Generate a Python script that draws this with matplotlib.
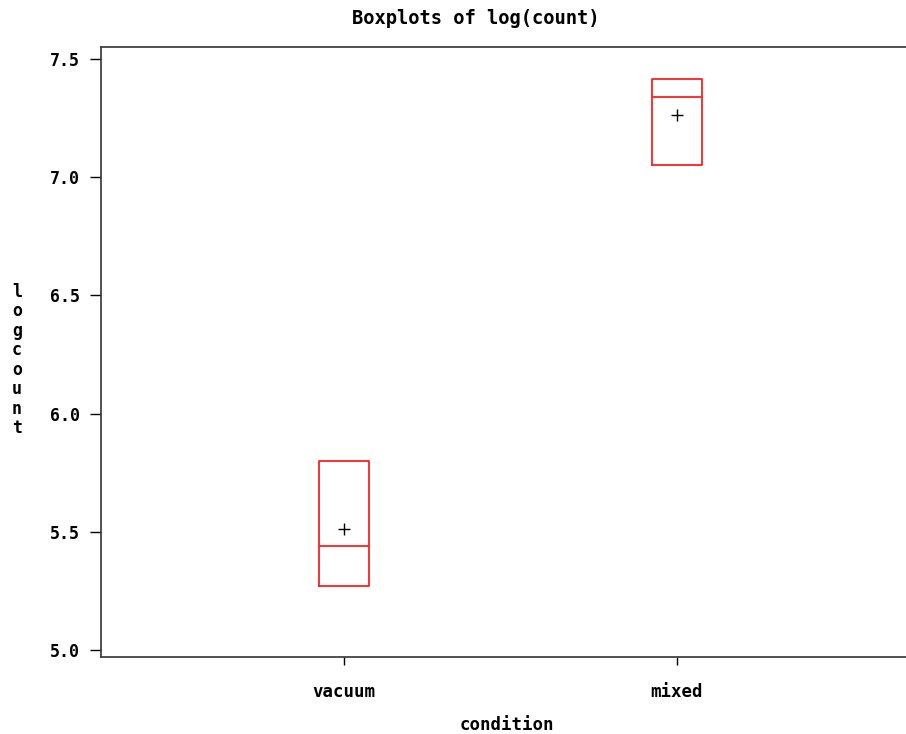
import matplotlib
matplotlib.use("Agg")
import matplotlib.pyplot as plt

# summary stats of log(count) per packaging condition
conditions = ["vacuum", "mixed"]
q1 = [5.27, 7.05]
median = [5.44, 7.34]
q3 = [5.80, 7.415]
mean = [5.51, 7.265]

yticks = [5.0, 5.5, 6.0, 6.5, 7.0, 7.5]

plt.rcParams['font.family'] = ['DejaVu Sans Mono']

fig = plt.figure(figsize=(9.06, 7.34), dpi=100)
# right side of the frame runs past the edge of the canvas
ax = fig.add_axes([101/906, 1-657/734, 815/906, 610/734])

stats = []
for i in range(len(conditions)):
    stats.append({'label': conditions[i], 'q1': q1[i], 'med': median[i], 'q3': q3[i],
                  'whislo': q1[i], 'whishi': q3[i], 'mean': mean[i], 'fliers': []})

ax.bxp(stats, positions=[1, 2], widths=0.15, showmeans=True, showcaps=False,
       boxprops=dict(color='#ff2020', linewidth=1.3),
       medianprops=dict(color='#ff2020', linewidth=1.3),
       whiskerprops=dict(color='#ff2020', linewidth=0),
       meanprops=dict(marker='+', markeredgecolor='black', markersize=9, markeredgewidth=1.0))

ax.set_xlim(0.268, 2.72)
ax.set_ylim(4.970, 7.551)
ax.set_yticks(yticks)
ax.set_yticklabels(["%.1f" % t for t in yticks], fontsize=12, fontweight='bold')
ax.set_xticks([1, 2])
ax.set_xticklabels(conditions, fontsize=12.5, fontweight='bold')
ax.tick_params(axis='y', direction='out', length=8, width=1, pad=7)
ax.tick_params(axis='x', direction='out', length=6, width=1, pad=13)
for s in ax.spines.values():
    s.set_linewidth(1.2)
    s.set_color('#333333')

fig.text(476/906, 1-18/734, "Boxplots of log(count)", ha='center', va='center',
         fontsize=13.5, fontweight='bold')
fig.text(507/906, 1-725/734, "condition", ha='center', va='center', fontsize=12.5, fontweight='bold')
fig.text(17/906, 1-360/734, "\n".join("logcount"), ha='center', va='center',
         fontsize=12, fontweight='bold', linespacing=1.1)

fig.savefig("out.png", dpi=100)
